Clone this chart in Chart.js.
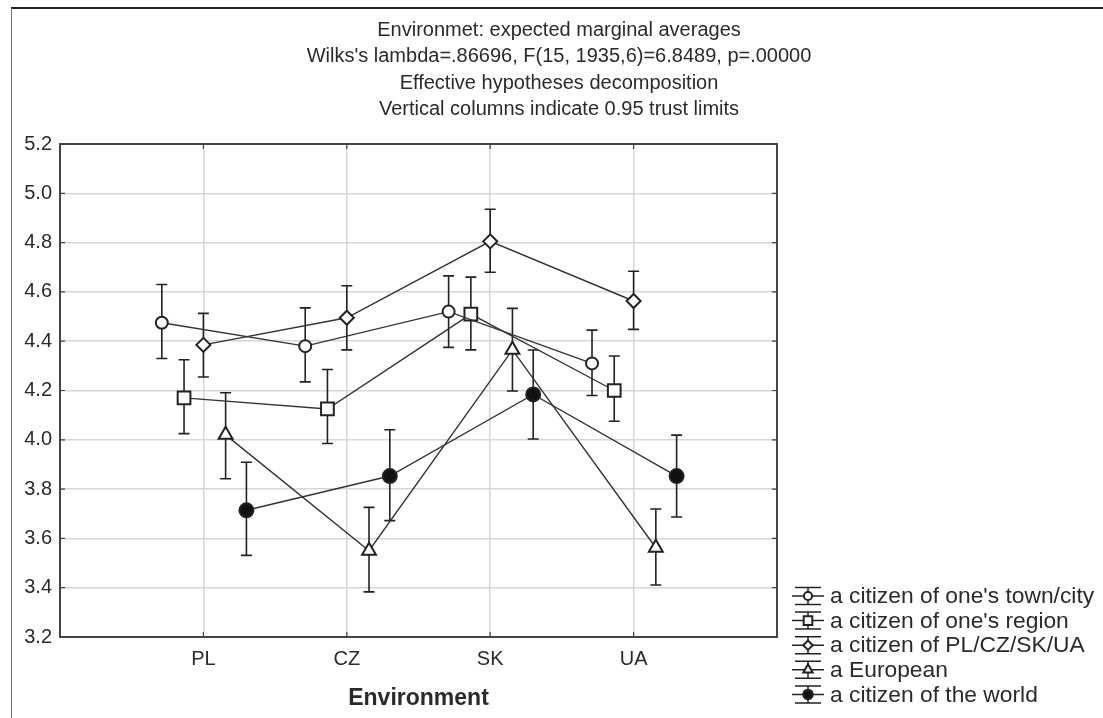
<!DOCTYPE html>
<html>
<head>
<meta charset="utf-8">
<style>
  html, body { margin: 0; padding: 0; background: #fff; }
  canvas { display: block; }
</style>
<script src="https://cdn.jsdelivr.net/npm/chart.js"></script>
</head>
<body>
<canvas id="chart" width="1103" height="718"></canvas>
<script>
// categories and series (means with 0.95 limits)
const categories = ['PL', 'CZ', 'SK', 'UA'];
const seriesNames = [
  "a citizen of one's town/city",
  "a citizen of one's region",
  'a citizen of PL/CZ/SK/UA',
  'a European',
  'a citizen of the world'
];

const townMean = [4.475, 4.38, 4.52, 4.31];
const townLow = [4.33, 4.235, 4.375, 4.18];
const townHigh = [4.63, 4.535, 4.665, 4.445];

const regionMean = [4.17, 4.125, 4.51, 4.2];
const regionLow = [4.025, 3.985, 4.365, 4.075];
const regionHigh = [4.325, 4.285, 4.66, 4.34];

const countryMean = [4.385, 4.495, 4.805, 4.563];
const countryLow = [4.255, 4.365, 4.68, 4.448];
const countryHigh = [4.513, 4.625, 4.935, 4.684];

const europeanMean = [4.02, 3.55, 4.365, 3.562];
const europeanLow = [3.842, 3.383, 4.198, 3.411];
const europeanHigh = [4.191, 3.726, 4.533, 3.719];

const worldMean = [3.714, 3.853, 4.184, 3.853];
const worldLow = [3.531, 3.672, 4.003, 3.687];
const worldHigh = [3.909, 4.041, 4.364, 4.019];

const yTicks = [3.2, 3.4, 3.6, 3.8, 4.0, 4.2, 4.4, 4.6, 4.8, 5.0, 5.2];

const titleLines = [
  'Environmet: expected marginal averages',
  "Wilks's lambda=.86696, F(15, 1935,6)=6.8489, p=.00000",
  'Effective hypotheses decomposition',
  'Vertical columns indicate 0.95 trust limits'
];

// horizontal shift of each series inside a category (in category units)
const dodge = [-0.29, -0.135, 0, 0.155, 0.3];
const markers = [
  { style: 'circle', radius: 6, fill: '#fff' },
  { style: 'rect', radius: 9, fill: '#fff' },
  { style: 'rectRot', radius: 7, fill: '#fff' },
  { style: 'triangle', radius: 8, fill: '#fff' },
  { style: 'circle', radius: 7, fill: '#111' }
];

const means = [townMean, regionMean, countryMean, europeanMean, worldMean];
const lows = [townLow, regionLow, countryLow, europeanLow, worldLow];
const highs = [townHigh, regionHigh, countryHigh, europeanHigh, worldHigh];

const FONT = "'Liberation Sans', Arial, sans-serif";
const INK = '#2a2a2a';

const datasets = means.map((m, s) => ({
  label: seriesNames[s],
  data: m.map((v, i) => ({ x: i + 1 + dodge[s], y: v, lo: lows[s][i], hi: highs[s][i] })),
  borderColor: '#333',
  borderWidth: 1.4,
  tension: 0,
  fill: false,
  pointStyle: markers[s].style,
  pointRadius: markers[s].radius,
  pointHoverRadius: markers[s].radius,
  pointBorderWidth: 2,
  pointBorderColor: '#222',
  pointBackgroundColor: markers[s].fill
}));

// error bars under the markers
const errorBars = {
  id: 'errorBars',
  beforeDatasetsDraw(chart) {
    const ctx = chart.ctx;
    const xs = chart.scales.x, ys = chart.scales.y;
    ctx.save();
    ctx.strokeStyle = '#222';
    ctx.lineWidth = 1.6;
    chart.data.datasets.forEach(ds => {
      ds.data.forEach(p => {
        const x = xs.getPixelForValue(p.x);
        const yl = ys.getPixelForValue(p.lo);
        const yh = ys.getPixelForValue(p.hi);
        ctx.beginPath();
        ctx.moveTo(x, yl); ctx.lineTo(x, yh);
        ctx.moveTo(x - 5.5, yl); ctx.lineTo(x + 5.5, yl);
        ctx.moveTo(x - 5.5, yh); ctx.lineTo(x + 5.5, yh);
        ctx.stroke();
      });
    });
    ctx.restore();
  }
};

// frame, plot border, title and legend
const decorations = {
  id: 'decorations',
  beforeDraw(chart) {
    const ctx = chart.ctx;
    ctx.save();
    ctx.strokeStyle = '#222';
    ctx.lineWidth = 2;
    ctx.beginPath(); ctx.moveTo(11, 8); ctx.lineTo(1103, 8); ctx.stroke();
    ctx.strokeStyle = '#777';
    ctx.lineWidth = 1;
    ctx.beginPath(); ctx.moveTo(11.5, 8); ctx.lineTo(11.5, 718); ctx.stroke();
    ctx.restore();
  },
  afterDraw(chart) {
    const ctx = chart.ctx;
    const a = chart.chartArea;
    const xs = chart.scales.x, ys = chart.scales.y;
    ctx.save();
    // plot border
    ctx.strokeStyle = '#444';
    ctx.lineWidth = 2;
    ctx.strokeRect(a.left, a.top, a.right - a.left, a.bottom - a.top);
    // small inner ticks
    ctx.lineWidth = 1.2;
    ctx.beginPath();
    for (let i = 1; i <= categories.length; i++) {
      const x = xs.getPixelForValue(i);
      ctx.moveTo(x, a.top); ctx.lineTo(x, a.top + 5);
      ctx.moveTo(x, a.bottom); ctx.lineTo(x, a.bottom - 5);
    }
    yTicks.forEach(t => {
      const y = ys.getPixelForValue(t);
      ctx.moveTo(a.left, y); ctx.lineTo(a.left + 5, y);
      ctx.moveTo(a.right, y); ctx.lineTo(a.right - 5, y);
    });
    ctx.stroke();

    // title
    ctx.fillStyle = INK;
    ctx.font = '20px ' + FONT;
    ctx.textAlign = 'center';
    ctx.textBaseline = 'middle';
    titleLines.forEach((t, i) => ctx.fillText(t, 559, 30 + i * 26.6));

    // legend
    ctx.textAlign = 'left';
    ctx.font = '22.8px ' + FONT;
    seriesNames.forEach((name, s) => {
      const y = 596 + s * 24.6;
      const cx = 808;
      ctx.strokeStyle = '#222';
      ctx.lineWidth = 1.5;
      ctx.beginPath();
      ctx.moveTo(795, y - 8.5); ctx.lineTo(821, y - 8.5);
      ctx.moveTo(795, y + 8.5); ctx.lineTo(821, y + 8.5);
      ctx.moveTo(792, y); ctx.lineTo(824, y);
      ctx.moveTo(cx, y - 8.5); ctx.lineTo(cx, y + 8.5);
      ctx.stroke();
      ctx.fillStyle = markers[s].fill;
      ctx.lineWidth = 2;
      Chart.helpers.drawPoint(ctx, {
        pointStyle: markers[s].style,
        radius: markers[s].radius * 0.68,
        borderWidth: 2,
        rotation: 0
      }, cx, y);
      ctx.fillStyle = INK;
      ctx.fillText(name, 830, y + 1);
    });
    ctx.restore();
  }
};

new Chart(document.getElementById('chart'), {
  type: 'line',
  data: { datasets: datasets },
  plugins: [errorBars, decorations],
  options: {
    responsive: false,
    animation: false,
    layout: { padding: { left: 0, top: 144, right: 326, bottom: 0 } },
    plugins: {
      legend: { display: false },
      title: { display: false },
      tooltip: { enabled: false }
    },
    scales: {
      x: {
        type: 'linear',
        min: 0,
        max: categories.length + 1,
        afterFit: scale => { scale.height = 81; },
        afterBuildTicks: scale => {
          scale.ticks = [0, 1, 2, 3, 4, 5].map(v => ({ value: v }));
        },
        ticks: {
          autoSkip: false,
          maxRotation: 0,
          padding: 10,
          color: INK,
          font: { family: FONT, size: 20 },
          callback: v => categories[v - 1] || ''
        },
        grid: { color: '#d6d6d6', lineWidth: 1.5, drawTicks: false },
        border: { display: false },
        title: {
          display: true,
          text: 'Environment',
          color: INK,
          font: { family: FONT, size: 23, weight: 'bold' },
          padding: { top: 0, bottom: 6 }
        }
      },
      y: {
        min: 3.2,
        max: 5.2,
        afterFit: scale => { scale.width = 60; },
        afterBuildTicks: scale => {
          scale.ticks = yTicks.map(v => ({ value: v }));
        },
        ticks: {
          padding: 8,
          color: INK,
          font: { family: FONT, size: 20 },
          callback: v => Number(v).toFixed(1)
        },
        grid: { color: '#d6d6d6', lineWidth: 1.5, drawTicks: false },
        border: { display: false }
      }
    }
  }
});
</script>
</body>
</html>
